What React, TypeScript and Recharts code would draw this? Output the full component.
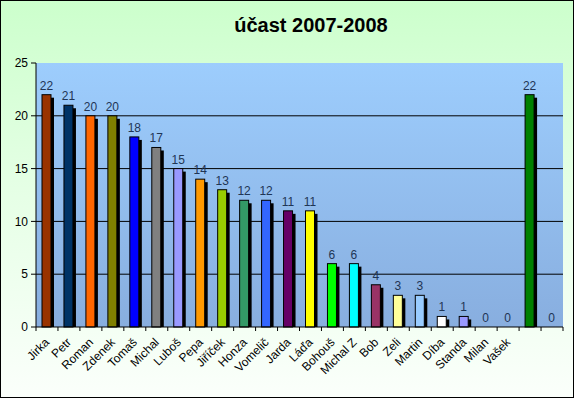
import { BarChart, Bar, XAxis, YAxis, CartesianGrid, Cell, LabelList } from 'recharts'

const names = [
  'Jirka', 'Petr', 'Roman', 'Zdenek', 'Tomaš', 'Michal', 'Luboš', 'Pepa', 'Jiříček', 'Honza', 'Vomelič', 'Jarda',
  'Láďa', 'Bohouš', 'Michal Z', 'Bob', 'Zeli', 'Martin', 'Díba', 'Standa', 'Milan', 'Vašek', '', '',
]
const counts = [22, 21, 20, 20, 18, 17, 15, 14, 13, 12, 12, 11, 11, 6, 6, 4, 3, 3, 1, 1, 0, 0, 22, 0]
const colors = [
  '#993300', '#003366', '#FF6600', '#808000', '#0000FF', '#808080', '#9999FF', '#FF9900', '#99CC00', '#339966',
  '#3366FF', '#660066', '#FFFF00', '#00FF00', '#00FFFF', '#993366', '#FFFF99', '#99CCFF', '#FFFFFF', '#9999FF',
  '#9999FF', '#9999FF', '#008000', '#008000',
]
const yTicks = [0, 5, 10, 15, 20, 25]

const CHART_W = 572
const CHART_H = 396
const MARGIN = { top: 62, right: 10, bottom: 0, left: 0 }
const Y_AXIS_W = 35
const X_AXIS_H = 70
const PLOT_W = CHART_W - MARGIN.left - MARGIN.right - Y_AXIS_W
const STEP = PLOT_W / names.length

const data = names.map((name, i) => ({ name, count: counts[i], color: colors[i] }))

function ShadowBar(props: any) {
  const { x, y, width, height, fill } = props
  if (!height || height <= 0) return null
  return (
    <g>
      <rect x={x + 3} y={y + 3} width={width} height={Math.max(height - 3, 0)} fill="#000" />
      <rect x={x} y={y} width={width} height={height} fill={fill} stroke="#000" strokeWidth={1} />
    </g>
  )
}

function NameTick(props: any) {
  const { x, y, payload, index } = props
  const left = x - STEP / 2
  return (
    <g>
      <line x1={left} y1={y} x2={left} y2={y + 4} stroke="#000" />
      {index === names.length - 1 && <line x1={x + STEP / 2} y1={y} x2={x + STEP / 2} y2={y + 4} stroke="#000" />}
      <text
        x={x + 3}
        y={y + 16}
        textAnchor="end"
        fontSize={12}
        fill="#000"
        transform={`rotate(-45, ${x + 3}, ${y + 16})`}
      >
        {payload.value}
      </text>
    </g>
  )
}

export default function App() {
  return (
    <div
      style={{
        position: 'absolute',
        left: 0,
        top: 0,
        width: 574,
        height: 398,
        boxSizing: 'border-box',
        border: '1px solid #000',
        background: 'linear-gradient(to bottom, #CCFFCC 0%, #E4FFE4 45%, #FBFFFB 100%)',
        fontFamily: '"Liberation Sans", Arial, sans-serif',
      }}
    >
      <svg width={0} height={0} style={{ position: 'absolute' }}>
        <defs>
          <linearGradient id="plotBg" x1="0" y1="0" x2="0" y2="1">
            <stop offset="0%" stopColor="#9DCDFD" />
            <stop offset="100%" stopColor="#88AEDF" />
          </linearGradient>
        </defs>
      </svg>
      <div
        style={{
          position: 'absolute',
          left: 0,
          right: 0,
          top: 13,
          paddingLeft: 48,
          textAlign: 'center',
          fontSize: 20,
          fontWeight: 'bold',
          color: '#000',
        }}
      >
        účast 2007-2008
      </div>
      <BarChart width={CHART_W} height={CHART_H} data={data} margin={MARGIN} barCategoryGap={0}>
        <CartesianGrid
          vertical={false}
          horizontalValues={[5, 10, 15, 20]}
          stroke="#000"
          strokeOpacity={1}
          fill="url(#plotBg)"
          fillOpacity={1}
        />
        <XAxis
          dataKey="name"
          interval={0}
          tick={<NameTick />}
          tickLine={false}
          tickSize={0}
          tickMargin={0}
          axisLine={{ stroke: '#000' }}
          height={X_AXIS_H}
        />
        <YAxis
          domain={[0, 25]}
          ticks={yTicks}
          width={Y_AXIS_W}
          tickSize={5}
          tickMargin={3}
          tickLine={{ stroke: '#000' }}
          axisLine={{ stroke: '#000' }}
          tick={{ fill: '#000', fontSize: 12 }}
        />
        <Bar dataKey="count" barSize={9} shape={<ShadowBar />} isAnimationActive={false}>
          {data.map((d, i) => (
            <Cell key={i} fill={d.color} />
          ))}
          <LabelList dataKey="count" position="top" offset={5} fill="#1F3555" fontSize={12} />
        </Bar>
      </BarChart>
    </div>
  )
}
